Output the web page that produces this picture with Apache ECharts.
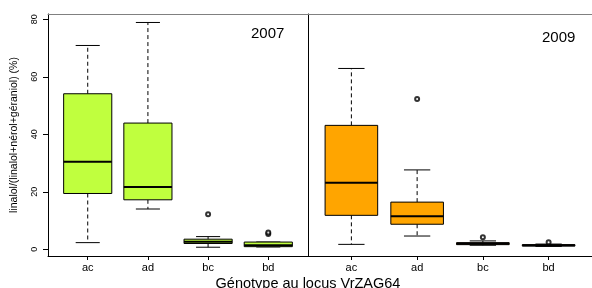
<!DOCTYPE html>
<html lang="fr">
<head>
    <meta charset="UTF-8">
    <title>VrZAG64</title>
    <style>
        html,body{
            margin: 0;
            height: 100%;
            background: #fff;
        }
        #main{
            width: 592px;
            height: 288px;
        }
    </style>
</head>
<body>
<div id="main"></div>
<script src="https://cdn.jsdelivr.net/npm/echarts@6/dist/echarts.min.js"></script>
<script>
    // génotypes
    var categories = ['ac', 'ad', 'bc', 'bd'];
    var yTicks = [0, 20, 40, 60, 80];

    // [min, Q1, médiane, Q3, max]
    var box2007 = [
        [2.3, 19.4, 30.4, 54.1, 70.9],
        [14.0, 17.2, 21.7, 43.9, 78.9],
        [0.7, 2.0, 2.6, 3.5, 4.4],
        [0.8, 0.9, 1.4, 2.5, 2.5]
    ];
    var box2009 = [
        [1.7, 11.8, 23.1, 43.1, 62.9],
        [4.6, 8.7, 11.5, 16.4, 27.6],
        [1.4, 1.6, 1.9, 2.3, 2.9],
        [1.0, 1.1, 1.4, 1.6, 1.8]
    ];
    // valeurs extrêmes [génotype, valeur]
    var out2007 = [[3, 12.2], [4, 5.3], [4, 5.8]];
    var out2009 = [[2, 52.3], [3, 4.2], [4, 2.4]];

    var font = 'Liberation Sans, Arial, sans-serif';

    function toItems(boxes) {
        return boxes.map(function (b, i) {
            return [i + 1].concat(b);
        });
    }

    function renderBox(color) {
        return function (params, api) {
            var x = api.value(0);
            var pMin = api.coord([x, api.value(1)]);
            var pQ1 = api.coord([x, api.value(2)]);
            var pMed = api.coord([x, api.value(3)]);
            var pQ3 = api.coord([x, api.value(4)]);
            var pMax = api.coord([x, api.value(5)]);
            var bw = api.size([0.8, 0])[0];
            var cw = api.size([0.4, 0])[0];
            var cx = pMed[0];
            var dash = {stroke: '#000', lineWidth: 1, lineDash: [4, 3]};
            var solid = {stroke: '#000', lineWidth: 1};
            return {
                type: 'group',
                children: [
                    {type: 'line', shape: {x1: cx, y1: pQ3[1], x2: cx, y2: pMax[1]}, style: dash},
                    {type: 'line', shape: {x1: cx, y1: pQ1[1], x2: cx, y2: pMin[1]}, style: dash},
                    {type: 'line', shape: {x1: cx - cw / 2, y1: pMax[1], x2: cx + cw / 2, y2: pMax[1]}, style: solid},
                    {type: 'line', shape: {x1: cx - cw / 2, y1: pMin[1], x2: cx + cw / 2, y2: pMin[1]}, style: solid},
                    {
                        type: 'rect',
                        shape: {x: cx - bw / 2, y: pQ3[1], width: bw, height: pQ1[1] - pQ3[1]},
                        style: {fill: color, stroke: '#000', lineWidth: 1}
                    },
                    {
                        type: 'line',
                        shape: {x1: cx - bw / 2, y1: pMed[1], x2: cx + bw / 2, y2: pMed[1]},
                        style: {stroke: '#000', lineWidth: 2}
                    }
                ]
            };
        };
    }

    function xBottom(gridIndex) {
        return {
            type: 'value', gridIndex: gridIndex, position: 'bottom',
            min: 0.34, max: 4.66,
            splitLine: {show: false},
            axisLine: {show: true, onZero: false, lineStyle: {color: '#000', width: 1}},
            axisTick: {show: true, length: 4, customValues: [1, 2, 3, 4], lineStyle: {color: '#000'}},
            axisLabel: {
                customValues: [1, 2, 3, 4], margin: 6,
                color: '#000', fontSize: 11, fontFamily: font,
                formatter: function (v) { return categories[Math.round(v) - 1]; }
            }
        };
    }

    function xTop(gridIndex) {
        return {
            type: 'value', gridIndex: gridIndex, position: 'top',
            min: 0.34, max: 4.66,
            splitLine: {show: false},
            axisLine: {show: true, onZero: false, lineStyle: {color: '#808080', width: 1}},
            axisTick: {show: false},
            axisLabel: {show: false}
        };
    }

    var chart = echarts.init(document.getElementById('main'));

    var option = {
        backgroundColor: '#fff',
        animation: false,
        title: [
            {
                text: 'Génotype au locus VrZAG64', left: 303, top: 271, textAlign: 'center',
                textStyle: {fontSize: 14.5, fontWeight: 'normal', color: '#000', fontFamily: font}
            },
            {
                text: '2007', left: 246, top: 21,
                textStyle: {fontSize: 15, fontWeight: 'normal', color: '#000', fontFamily: font}
            },
            {
                text: '2009', left: 537, top: 25,
                textStyle: {fontSize: 15, fontWeight: 'normal', color: '#000', fontFamily: font}
            }
        ],
        grid: [
            {left: 48, top: 14, width: 260, height: 242},
            {left: 308, top: 14, width: 294, height: 242}
        ],
        xAxis: [xBottom(0), xBottom(1), xTop(0), xTop(1)],
        yAxis: [
            {
                type: 'value', gridIndex: 0, min: -2.35, max: 81.85,
                name: 'linalol/(linalol+nérol+géraniol) (%)',
                nameLocation: 'middle', nameRotate: 90, nameGap: 28,
                nameTextStyle: {fontSize: 10.5, color: '#000', fontFamily: font},
                splitLine: {show: false},
                axisLine: {show: true, onZero: false, lineStyle: {color: '#000', width: 1}},
                axisTick: {show: true, length: 5, customValues: yTicks, lineStyle: {color: '#000'}},
                axisLabel: {
                    customValues: yTicks, rotate: 90, margin: 9,
                    color: '#000', fontSize: 9, fontFamily: font
                }
            },
            {
                type: 'value', gridIndex: 1, min: -2.35, max: 81.85,
                splitLine: {show: false},
                axisLine: {show: true, onZero: false, lineStyle: {color: '#000', width: 1}},
                axisTick: {show: false},
                axisLabel: {show: false}
            }
        ],
        series: [
            {
                type: 'custom', xAxisIndex: 0, yAxisIndex: 0,
                renderItem: renderBox('#C0FF3E'),
                encode: {x: 0, y: [1, 2, 3, 4, 5]},
                data: toItems(box2007)
            },
            {
                type: 'custom', xAxisIndex: 1, yAxisIndex: 1,
                renderItem: renderBox('#FFA500'),
                encode: {x: 0, y: [1, 2, 3, 4, 5]},
                data: toItems(box2009)
            },
            {
                type: 'scatter', xAxisIndex: 0, yAxisIndex: 0,
                symbol: 'emptyCircle', symbolSize: 4,
                itemStyle: {color: '#000', borderColor: '#000', borderWidth: 1},
                data: out2007
            },
            {
                type: 'scatter', xAxisIndex: 1, yAxisIndex: 1,
                symbol: 'emptyCircle', symbolSize: 4,
                itemStyle: {color: '#000', borderColor: '#000', borderWidth: 1},
                data: out2009
            }
        ]
    };

    chart.setOption(option);
</script>
</body>
</html>
